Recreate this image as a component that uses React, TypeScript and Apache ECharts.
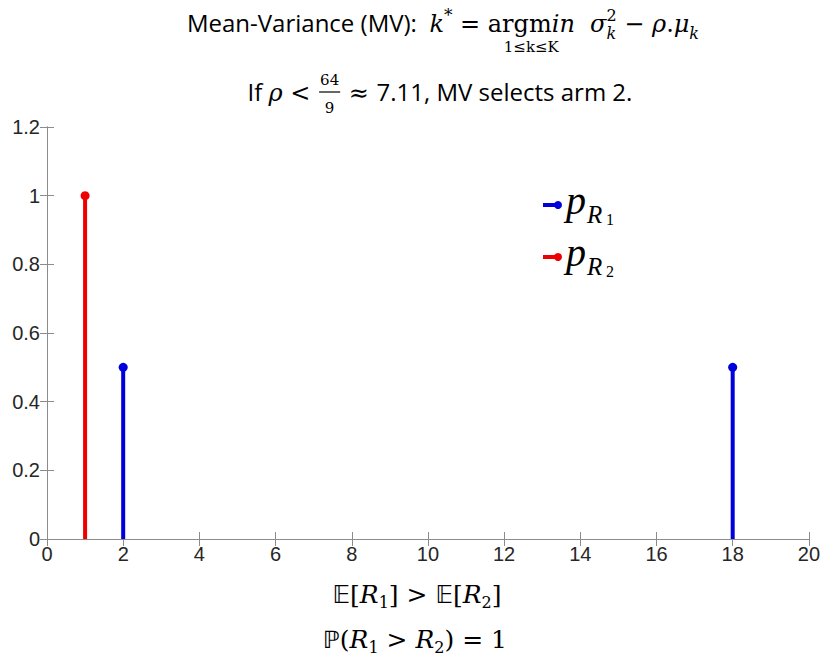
import React, { useEffect, useRef } from "react";
import * as echarts from "echarts";

// ---- data ----
const R1_X = [2, 18];
const R1_P = [0.5, 0.5];
const R2_X = [1];
const R2_P = [1];
const X_MIN = 0;
const X_MAX = 20;
const X_STEP = 2;
const Y_MIN = 0;
const Y_MAX = 1.2;
const Y_STEP = 0.2;

const BLUE = "#0000dd";
const RED = "#ee0000";
const AXIS = "#8c8c8c";
const LABEL = "#262626";

const SERIF = "DejaVu Serif";
const LSERIF = "Liberation Serif";
const SANS = "Open Sans";
const DS = "DejaVu Sans";
const CENTRAL: Record<string, number> = {
  "Liberation Serif": 0.3375,
  "DejaVu Serif": 0.346,
  "Open Sans": 0.388,
  "DejaVu Sans": 0.346,
  "Liberation Sans": 0.3465,
};

type Tok = {
  t?: string;
  fam?: string;
  size?: number;
  it?: boolean;
  dy?: number;
  same?: boolean;
  under?: number;
  frac?: [string, string];
};

let measureCtx: CanvasRenderingContext2D | null = null;
function fontStr(fam: string, size: number, it?: boolean) {
  return `${it ? "italic " : ""}${size}px "${fam}"`;
}
function measure(text: string, fam: string, size: number, it?: boolean) {
  if (!measureCtx) measureCtx = document.createElement("canvas").getContext("2d");
  measureCtx!.font = fontStr(fam, size, it);
  return measureCtx!.measureText(text).width;
}

function textEl(t: string, x: number, baseline: number, fam: string, size: number, it: boolean | undefined, color: string) {
  return {
    type: "text",
    x,
    y: baseline - (CENTRAL[fam] ?? 0.34) * size,
    silent: true,
    style: {
      text: t,
      fontFamily: fam,
      fontSize: size,
      fontStyle: it ? "italic" : "normal",
      fill: color,
      align: "left",
      verticalAlign: "middle",
    },
  };
}

function buildLine(tokens: Tok[], cx: number, baseline: number, defFam: string, defSize: number, color = "#000") {
  type P = { tk: Tok; x: number; w: number };
  const placed: P[] = [];
  const main: P[] = [];
  let x = 0;
  let prevStart = 0;
  for (const tk of tokens) {
    const fam = tk.fam ?? defFam;
    const size = tk.size ?? defSize;
    if (tk.frac) {
      const w = Math.max(measure(tk.frac[0], fam, size), measure(tk.frac[1], fam, size)) + 4;
      const p = { tk, x, w };
      placed.push(p);
      main.push(p);
      prevStart = x;
      x += w;
      continue;
    }
    const w = measure(tk.t!, fam, size, tk.it);
    if (tk.same) {
      placed.push({ tk, x: prevStart, w });
      x = Math.max(x, prevStart + w);
      continue;
    }
    if (tk.under) {
      const span = main.slice(-tk.under);
      const s = span[0].x;
      const e = span[span.length - 1].x + span[span.length - 1].w;
      placed.push({ tk, x: (s + e) / 2 - w / 2, w });
      continue;
    }
    const p = { tk, x, w };
    placed.push(p);
    main.push(p);
    prevStart = x;
    x += w;
  }
  const x0 = cx - x / 2;
  const els: any[] = [];
  for (const p of placed) {
    const tk = p.tk;
    const fam = tk.fam ?? defFam;
    const size = tk.size ?? defSize;
    if (tk.frac) {
      const mid = x0 + p.x + p.w / 2;
      const nw = measure(tk.frac[0], fam, size);
      const dw = measure(tk.frac[1], fam, size);
      els.push(textEl(tk.frac[0], mid - nw / 2, baseline - 16, fam, size, false, color));
      els.push(textEl(tk.frac[1], mid - dw / 2, baseline + 12, fam, size, false, color));
      els.push({
        type: "line",
        silent: true,
        shape: { x1: x0 + p.x + 1, y1: baseline - 9, x2: x0 + p.x + p.w - 1, y2: baseline - 9 },
        style: { stroke: color, lineWidth: 1.2 },
      });
      continue;
    }
    els.push(textEl(tk.t!, x0 + p.x, baseline + (tk.dy ?? 0), fam, size, tk.it, color));
  }
  return els;
}

const TITLE1: Tok[] = [
  { t: "Mean-Variance (MV):  ", fam: SANS, size: 24 },
  { t: "k", it: true },
  { t: "*", size: 17, dy: -11 },
  { t: " = " },
  { t: "argm" },
  { t: "in", it: true },
  { t: "1≤k≤K", size: 15, under: 2, dy: 20 },
  { t: "  σ", it: true },
  { t: "2", size: 16, dy: -11 },
  { t: "k", size: 16, it: true, dy: 7, same: true },
  { t: " − " },
  { t: "ρ", it: true },
  { t: "." },
  { t: "μ", it: true },
  { t: "k", size: 16, it: true, dy: 7 },
];

const TITLE2: Tok[] = [
  { t: "If ", fam: SANS, size: 24 },
  { t: "ρ", it: true },
  { t: " < " },
  { frac: ["64", "9"], size: 15 },
  { t: " ≈ " },
  { t: "7.11, MV selects arm 2.", fam: SANS, size: 24 },
];

const BOTTOM1: Tok[] = [
  { t: "𝔼", fam: DS, size: 24 },
  { t: "[" },
  { t: "R", it: true },
  { t: "1", size: 16, dy: 5 },
  { t: "] > " },
  { t: "𝔼", fam: DS, size: 24 },
  { t: "[" },
  { t: "R", it: true },
  { t: "2", size: 16, dy: 5 },
  { t: "]" },
];

const BOTTOM2: Tok[] = [
  { t: "ℙ", fam: DS, size: 24 },
  { t: "(" },
  { t: "R", it: true },
  { t: "1", size: 16, dy: 5 },
  { t: " > " },
  { t: "R", it: true },
  { t: "2", size: 16, dy: 5 },
  { t: ") = 1" },
];

function legendItem(color: string, cy: number, sub: string) {
  return [
    {
      type: "line",
      silent: true,
      shape: { x1: 543, y1: cy, x2: 558, y2: cy },
      style: { stroke: color, lineWidth: 4 },
    },
    { type: "circle", silent: true, shape: { cx: 558, cy, r: 4 }, style: { fill: color } },
    textEl("p", 566, cy + 9, LSERIF, 40, true, "#000"),
    textEl("R", 587, cy + 18, LSERIF, 25, true, "#000"),
    textEl(sub, 606, cy + 20, LSERIF, 16, false, "#000"),
  ];
}

function stemSeries(name: string, xs: number[], ps: number[], color: string) {
  return {
    type: "custom",
    name,
    xAxisIndex: 0,
    yAxisIndex: 0,
    data: xs.map((x, i) => [x, ps[i]]),
    renderItem: (_params: any, api: any) => {
      const top = api.coord([api.value(0), api.value(1)]);
      const base = api.coord([api.value(0), 0]);
      return {
        type: "group",
        children: [
          {
            type: "line",
            shape: { x1: base[0], y1: base[1], x2: top[0], y2: top[1] },
            style: { stroke: color, lineWidth: 4 },
          },
          { type: "circle", shape: { cx: top[0], cy: top[1], r: 4.5 }, style: { fill: color } },
        ],
      };
    },
  };
}

export default function App() {
  const ref = useRef<HTMLDivElement>(null);
  useEffect(() => {
    document.body.style.margin = "0";
    const chart = echarts.init(ref.current!, undefined, { renderer: "svg" });
    const axisCommon = {
      axisLine: { show: true, lineStyle: { color: AXIS, width: 1 } },
      axisTick: { show: true, inside: true, length: 7, lineStyle: { color: AXIS } },
      splitLine: { show: false },
    };
    const labelStyle = { color: LABEL, fontFamily: "Liberation Sans", fontSize: 20 };
    chart.setOption({
      animation: false,
      backgroundColor: "#ffffff",
      grid: { left: 47, right: 13, top: 127, bottom: 123, containLabel: false },
      xAxis: [
        {
          ...axisCommon,
          type: "value",
          position: "bottom",
          min: X_MIN,
          max: X_MAX,
          interval: X_STEP,
          axisLabel: { ...labelStyle, margin: 5 },
        },
        {
          ...axisCommon,
          type: "value",
          position: "top",
          min: X_MIN,
          max: X_MAX,
          interval: X_STEP,
          axisLabel: { show: false },
        },
      ],
      yAxis: [
        {
          ...axisCommon,
          type: "value",
          position: "left",
          min: Y_MIN,
          max: Y_MAX,
          interval: Y_STEP,
          axisLabel: { ...labelStyle, margin: 7, formatter: (v: number) => String(Math.round(v * 10) / 10) },
        },
        {
          ...axisCommon,
          type: "value",
          position: "right",
          min: Y_MIN,
          max: Y_MAX,
          interval: Y_STEP,
          axisLabel: { show: false },
        },
      ],
      series: [stemSeries("R2", R2_X, R2_P, RED), stemSeries("R1", R1_X, R1_P, BLUE)],
      graphic: [
        ...buildLine(TITLE1, 443, 32, SERIF, 24),
        ...buildLine(TITLE2, 440, 101, SERIF, 24),
        ...buildLine(BOTTOM1, 417, 603, SERIF, 25),
        ...buildLine(BOTTOM2, 415, 648, SERIF, 25),
        ...legendItem(BLUE, 205, "1"),
        ...legendItem(RED, 257, "2"),
      ],
    });
    return () => chart.dispose();
  }, []);
  return <div ref={ref} style={{ width: 823, height: 662 }} />;
}
